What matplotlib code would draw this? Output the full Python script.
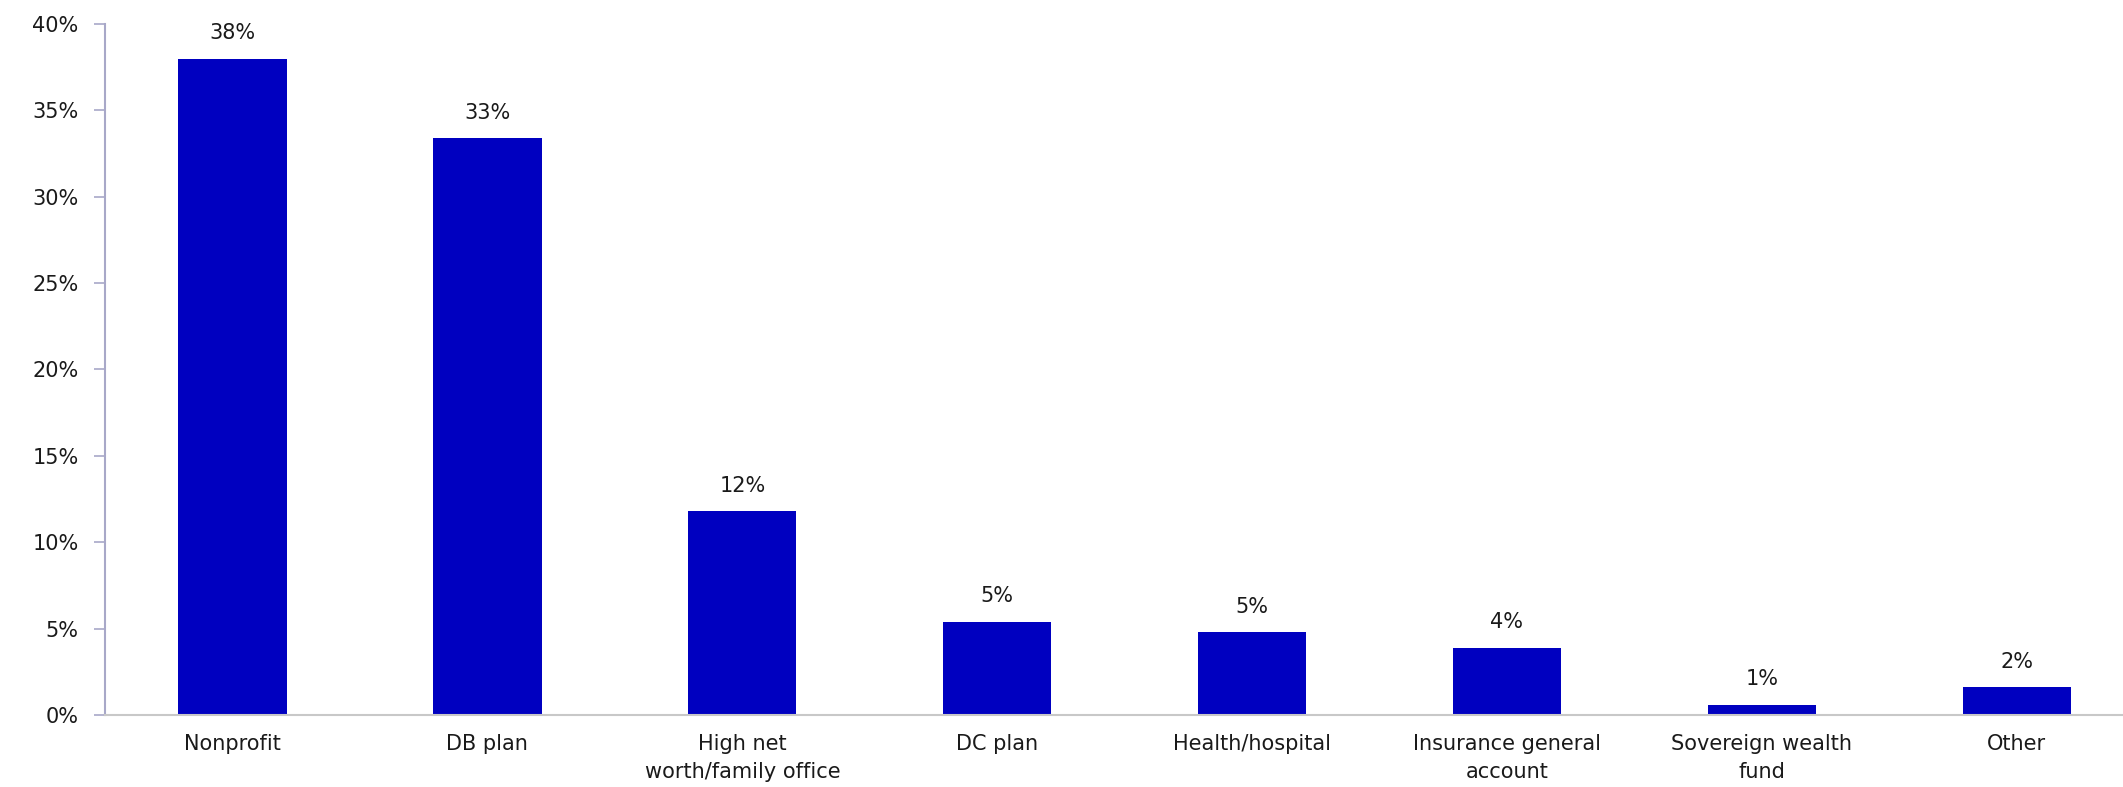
import matplotlib
matplotlib.use('Agg')
import matplotlib.pyplot as plt
from matplotlib.ticker import PercentFormatter

categories = ['Nonprofit', 'DB plan', 'High net\nworth/family office', 'DC plan',
              'Health/hospital', 'Insurance general\naccount', 'Sovereign wealth\nfund', 'Other']
values = [38.0, 33.4, 11.8, 5.4, 4.8, 3.9, 0.6, 1.6]
labels = ['38%', '33%', '12%', '5%', '5%', '4%', '1%', '2%']
yticks = [0, 5, 10, 15, 20, 25, 30, 35, 40]

plt.rcParams['font.family'] = ['DejaVu Sans']

fig = plt.figure(figsize=(21.23, 7.87), dpi=100)
# the axis runs a little past the right edge of the picture
ax = fig.add_axes([0.0495, 0.0915, 0.9605, 0.878])

x = list(range(len(categories)))
ax.bar(x, values, width=0.425, color='#0000C0', zorder=2)

for xi, v, lab in zip(x, values, labels):
    ax.annotate(lab, (xi, v), xytext=(0, 11), textcoords='offset points',
                ha='center', va='bottom', fontsize=15, color='#1a1a1a')

ax.set_xlim(-0.5, 7.5)
ax.set_ylim(0, 40)
ax.set_yticks(yticks)
ax.yaxis.set_major_formatter(PercentFormatter(decimals=0))
ax.set_xticks(x)
ax.set_xticklabels(categories, fontsize=15, color='#1a1a1a', linespacing=1.45)
ax.tick_params(axis='x', length=0, pad=14)
ax.tick_params(axis='y', length=8, width=1.2, color='#A8A8C8', labelsize=15,
               labelcolor='#1a1a1a', pad=11)

for s in ['top', 'right']:
    ax.spines[s].set_visible(False)
ax.spines['left'].set_color('#A8A8C8')
ax.spines['left'].set_linewidth(1.5)
ax.spines['bottom'].set_color('#C8C8C8')
ax.spines['bottom'].set_linewidth(1.5)

plt.savefig('out.png', dpi=100)
plt.close()
